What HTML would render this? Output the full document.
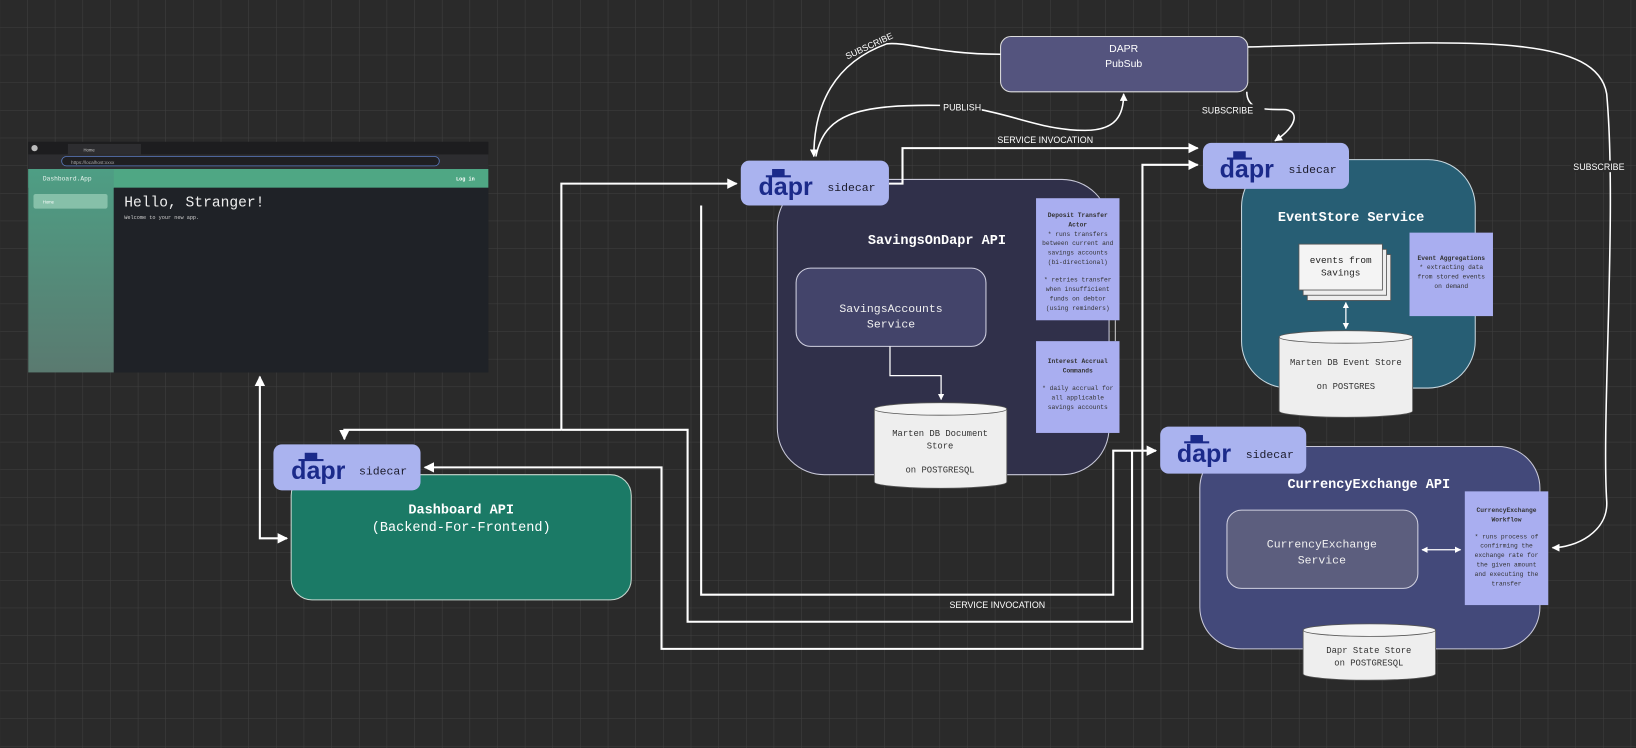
<!DOCTYPE html>
<html><head><meta charset="utf-8"><style>
html,body{margin:0;padding:0;background:#2a2a2a;overflow:hidden}
svg{display:block}
.m{font-family:"Liberation Mono",monospace}
.s{font-family:"Liberation Sans",sans-serif}
</style></head><body>
<svg width="1636" height="748" viewBox="0 0 1568 717" xmlns="http://www.w3.org/2000/svg">
<defs>
<pattern id="g" width="26.5" height="26.5" patternUnits="userSpaceOnUse">
<path d="M26.5 0V26.5H0" fill="none" stroke="#404040" stroke-width="1"/>
</pattern>
<marker id="a" viewBox="0 0 10 10" refX="9" refY="5" markerWidth="5" markerHeight="5" orient="auto-start-reverse"><path d="M0 0L10 5L0 10z" fill="#fff"/></marker>
<linearGradient id="sb" x1="0" y1="0" x2="0" y2="1"><stop offset="0" stop-color="#4e9e84"/><stop offset="1" stop-color="#5a7a70"/></linearGradient>
</defs>
<rect width="1568" height="717" fill="#2a2a2a"/>
<rect width="1568" height="717" fill="url(#g)"/>

<!-- browser -->
<rect x="27" y="136" width="441" height="221" fill="#202124"/>
<rect x="27" y="136" width="441" height="12" fill="#1d1d1f"/>
<rect x="65" y="138" width="70" height="10" fill="#2d2d30"/>
<text x="80" y="145" class="s" font-size="4" fill="#ccc">Home</text>
<circle cx="33" cy="142" r="3" fill="#bbb"/>
<rect x="27" y="148" width="441" height="14" fill="#2d2d30"/>
<rect x="59" y="150" width="362" height="9" rx="4.5" fill="#1f1f22" stroke="#5b7bc0" stroke-width="0.8"/>
<text x="68" y="157" class="s" font-size="4.5" fill="#aaa">https://localhost:xxxx</text>
<rect x="27" y="162" width="441" height="18" fill="#4fa784"/>
<rect x="27" y="162" width="82" height="195" fill="url(#sb)"/>
<text x="41" y="173" class="m" font-size="6" fill="#e8f4ee">Dashboard.App</text>
<text x="437" y="173" class="m" font-size="5" font-weight="bold" fill="#fff">Log in</text>
<rect x="32" y="186" width="71" height="14" rx="2" fill="#86c0a9"/>
<text x="41" y="195" class="s" font-size="4" fill="#fff">Home</text>
<rect x="109" y="180" width="359" height="177" fill="#1f2227"/>
<text x="119" y="198" class="m" font-size="14" fill="#eee">Hello, Stranger!</text>
<text x="119" y="210" class="m" font-size="5" fill="#ccc">Welcome to your new app.</text>

<!-- containers -->
<rect x="745" y="172" width="318" height="283" rx="45" fill="#30304a" stroke="#c8c8d8" stroke-width="1"/>
<text x="898" y="234" class="m" font-size="13" font-weight="bold" fill="#fff" text-anchor="middle">SavingsOnDapr API</text>
<rect x="763" y="257" width="182" height="75" rx="14" fill="#43446a" stroke="#d0d0e0" stroke-width="1"/>
<text x="854" y="299" class="m" font-size="11" fill="#f0f0f0" text-anchor="middle">SavingsAccounts</text>
<text x="854" y="314" class="m" font-size="11" fill="#f0f0f0" text-anchor="middle">Service</text>

<rect x="1190" y="153" width="224" height="219" rx="45" fill="#275e74" stroke="#c8d8e0" stroke-width="1"/>
<text x="1295" y="212" class="m" font-size="13" font-weight="bold" fill="#fff" text-anchor="middle">EventStore Service</text>

<rect x="1150" y="428" width="326" height="194" rx="40" fill="#43497a" stroke="#c8c8d8" stroke-width="1"/>
<text x="1312" y="468" class="m" font-size="13" font-weight="bold" fill="#fff" text-anchor="middle">CurrencyExchange API</text>
<rect x="1176" y="489" width="183" height="75" rx="14" fill="#5c5e7e" stroke="#d0d0e0" stroke-width="1"/>
<text x="1267" y="525" class="m" font-size="11" fill="#f0f0f0" text-anchor="middle">CurrencyExchange</text>
<text x="1267" y="540" class="m" font-size="11" fill="#f0f0f0" text-anchor="middle">Service</text>

<rect x="279" y="455" width="326" height="120" rx="20" fill="#1b7a66" stroke="#c8d8d0" stroke-width="1"/>
<text x="442" y="492" class="m" font-size="13" font-weight="bold" fill="#fff" text-anchor="middle">Dashboard API</text>
<text x="442" y="509" class="m" font-size="13" fill="#fff" text-anchor="middle">(Backend-For-Frontend)</text>

<rect x="959" y="35" width="237" height="53" rx="10" fill="#54547e" stroke="#ddd" stroke-width="1"/>
<text x="1077" y="50" class="s" font-size="10" fill="#fff" text-anchor="middle">DAPR</text>
<text x="1077" y="64" class="s" font-size="10" fill="#fff" text-anchor="middle">PubSub</text>

<!-- notes -->
<g class="m" font-size="6" fill="#333" text-anchor="middle">
<line x1="1069" y1="307" x2="1069" y2="327" stroke="#ccc"/>
<rect x="993" y="190" width="80" height="117" fill="#a9aef0"/>
<text x="1033" y="208" font-weight="bold">Deposit Transfer</text>
<text x="1033" y="217" font-weight="bold">Actor</text>
<text x="1033" y="226">* runs transfers</text>
<text x="1033" y="235">between current and</text>
<text x="1033" y="244">savings accounts</text>
<text x="1033" y="253">(bi-directional)</text>
<text x="1033" y="270">* retries transfer</text>
<text x="1033" y="279">when insufficient</text>
<text x="1033" y="288">funds on debtor</text>
<text x="1033" y="297">(using reminders)</text>
<rect x="993" y="327" width="80" height="88" fill="#a9aef0"/>
<text x="1033" y="348" font-weight="bold">Interest Accrual</text>
<text x="1033" y="357" font-weight="bold">Commands</text>
<text x="1033" y="374">* daily accrual for</text>
<text x="1033" y="383">all applicable</text>
<text x="1033" y="392">savings accounts</text>
<rect x="1351" y="223" width="80" height="80" fill="#a9aef0"/>
<text x="1391" y="249" font-weight="bold">Event Aggregations</text>
<text x="1391" y="258">* extracting data</text>
<text x="1391" y="267">from stored events</text>
<text x="1391" y="276">on demand</text>
<rect x="1404" y="471" width="80" height="109" fill="#a9aef0"/>
<text x="1444" y="491" font-weight="bold">CurrencyExchange</text>
<text x="1444" y="500" font-weight="bold">Workflow</text>
<text x="1444" y="516">* runs process of</text>
<text x="1444" y="525">confirming the</text>
<text x="1444" y="534">exchange rate for</text>
<text x="1444" y="543">the given amount</text>
<text x="1444" y="552">and executing the</text>
<text x="1444" y="561">transfer</text>
</g>

<!-- stacked docs -->
<rect x="1253" y="244" width="80" height="44" fill="#eee" stroke="#555" stroke-width="0.8"/>
<rect x="1249" y="239" width="80" height="44" fill="#eee" stroke="#555" stroke-width="0.8"/>
<rect x="1245" y="234" width="80" height="44" fill="#f4f4f4" stroke="#555" stroke-width="0.8"/>
<text x="1285" y="252" class="m" font-size="9" fill="#222" text-anchor="middle">events from</text>
<text x="1285" y="264" class="m" font-size="9" fill="#222" text-anchor="middle">Savings</text>

<!-- cylinders -->
<g stroke="#555" stroke-width="0.8">
<path d="M838 392 V462 A63.5 6 0 0 0 965 462 V392" fill="#eee"/>
<ellipse cx="901.5" cy="392" rx="63.5" ry="6" fill="#f4f4f4"/>
<path d="M1226 323 V394 A64 6 0 0 0 1354 394 V323" fill="#eee"/>
<ellipse cx="1290" cy="323" rx="64" ry="6" fill="#f4f4f4"/>
<path d="M1249 604 V646 A63.5 6 0 0 0 1376 646 V604" fill="#eee"/>
<ellipse cx="1312.5" cy="604" rx="63.5" ry="6" fill="#f4f4f4"/>
</g>
<g class="m" font-size="8.5" fill="#333" text-anchor="middle">
<text x="901" y="418">Marten DB Document</text>
<text x="901" y="430">Store</text>
<text x="901" y="453">on POSTGRESQL</text>
<text x="1290" y="350">Marten DB Event Store</text>
<text x="1290" y="373">on POSTGRES</text>
<text x="1312" y="626">Dapr State Store</text>
<text x="1312" y="638">on POSTGRESQL</text>
</g>

<!-- connectors -->
<g fill="none" stroke="#fff" stroke-width="2">
<path d="M249 361 V516 H275" marker-start="url(#a)" marker-end="url(#a)"/>
<path d="M330 421 V412 H538" marker-start="url(#a)"/>
<path d="M538 412 V176 H706" marker-end="url(#a)"/>
<path d="M538 412 H659 V596 H1085 V432"/>
<path d="M407 448 H634 V622 H1095 V158 H1148" marker-start="url(#a)" marker-end="url(#a)"/>
<path d="M672 197 V570 H1067 V432 H1108" marker-end="url(#a)"/>
<path d="M852 176 H865 V142 H1148" marker-end="url(#a)"/>
<path d="M853 332 V360 H902 V383" stroke-width="1.2" marker-end="url(#a)"/>
<path d="M1290 290 V315" stroke-width="1.2" marker-start="url(#a)" marker-end="url(#a)"/>
<path d="M1363 527 H1400" stroke-width="1.2" marker-start="url(#a)" marker-end="url(#a)"/>
<path d="M959 52 C900 52 870 40 850 42 C800 60 780 100 780 150" stroke-width="1.5" marker-end="url(#a)"/>
<path d="M782 150 C790 110 820 100 900 101 C960 102 990 125 1040 125 C1070 125 1077 110 1077 90" stroke-width="1.5" marker-end="url(#a)"/>
<path d="M1196 45 C1400 40 1530 30 1540 90 C1550 200 1535 400 1540 480 C1542 510 1510 525 1488 525" stroke-width="1.5" marker-end="url(#a)"/>
<path d="M1195 88 C1195 105 1210 105 1230 105 C1245 105 1245 120 1222 135" stroke-width="1.5" marker-end="url(#a)"/>
</g>
<g class="s" font-size="8.5" fill="#fff">
<rect x="901" y="97" width="40" height="11" fill="#2a2a2a"/>
<text x="904" y="106">PUBLISH</text>
<rect x="1150" y="100" width="62" height="11" fill="#2a2a2a"/>
<text x="1152" y="109">SUBSCRIBE</text>
<rect x="1506" y="154" width="52" height="11" fill="#2a2a2a"/>
<text x="1508" y="163">SUBSCRIBE</text>
<text x="956" y="137">SERVICE INVOCATION</text>
<text x="910" y="583">SERVICE INVOCATION</text>
<text transform="translate(812 57) rotate(-25)">SUBSCRIBE</text>
</g>

<!-- sidecars -->
<g>
<rect x="710" y="154" width="142" height="43" rx="8" fill="#aab3ef"/>
<rect x="1153" y="137" width="140" height="44" rx="8" fill="#aab3ef"/>
<rect x="1112" y="409" width="140" height="45" rx="8" fill="#aab3ef"/>
<rect x="262" y="426" width="141" height="44" rx="8" fill="#aab3ef"/>
</g>
<g class="s" font-weight="bold" font-size="24" fill="#1b2a8a">
<text x="727" y="187">dapr</text>
<text x="1169" y="170">dapr</text>
<text x="1128" y="443">dapr</text>
<text x="279" y="459">dapr</text>
</g>
<g fill="#1b2a8a">
<rect x="740" y="162" width="12" height="7"/><rect x="734" y="168" width="24" height="2"/>
<rect x="1182" y="145" width="12" height="7"/><rect x="1176" y="151" width="24" height="2"/>
<rect x="1141" y="417" width="12" height="7"/><rect x="1135" y="423" width="24" height="2"/>
<rect x="292" y="434" width="12" height="7"/><rect x="286" y="440" width="24" height="2"/>
</g>
<g class="m" font-size="11" fill="#1a1a2a">
<text x="793" y="183">sidecar</text>
<text x="1235" y="166">sidecar</text>
<text x="1194" y="439">sidecar</text>
<text x="344" y="455">sidecar</text>
</g>
</svg>
</body></html>
